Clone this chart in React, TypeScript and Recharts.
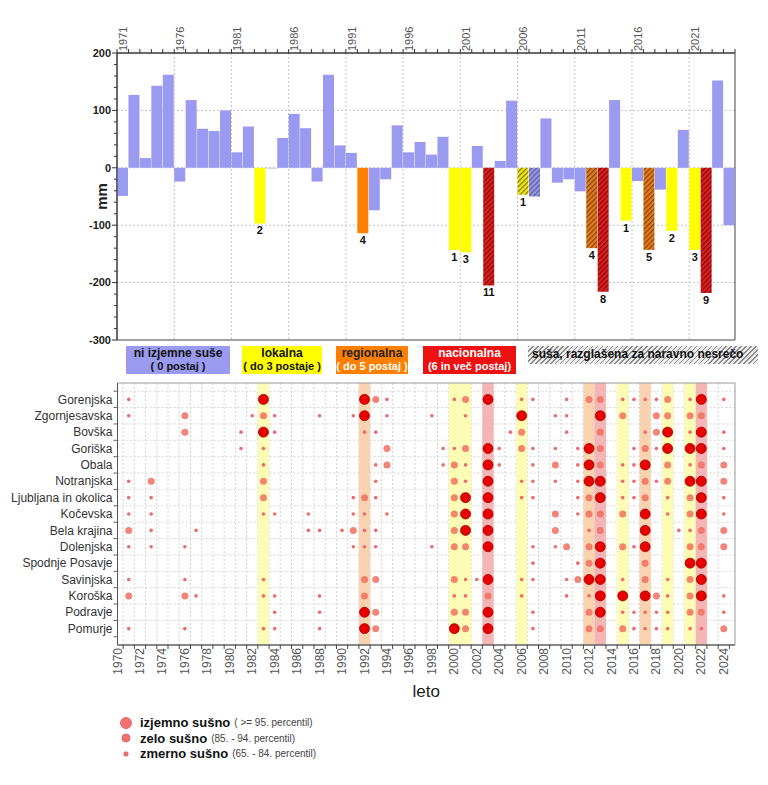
import React from "react";
import {
  BarChart,
  Bar,
  Cell,
  LabelList,
  XAxis,
  YAxis,
  CartesianGrid,
  ReferenceArea,
  ScatterChart,
  Scatter,
} from "recharts";

// --- data: precipitation anomaly (mm), one value per year from 1971 ---
const FIRST_YEAR = 1971;
const precipAnomaly = [
  -49, 127, 17, 143, 162, -24, 118, 68, 64, 100,
  27, 72, -97, -1, 52, 94, 69, -24, 162, 39,
  26, -114, -74, -20, 74, 27, 45, 23, 54, -143,
  -147, 38, -205, 12, 117, -47, -50, 86, -26, -20,
  -41, -140, -216, 118, -92, -23, -143, -38, -110, 66,
  -143, -218, 152, -100,
];

const localYears = [1983, 2000, 2001, 2006, 2015, 2019, 2021];
const regionalYears = [1992, 2012, 2017];
const nationalYears = [2003, 2013, 2022];
const declaredYears = [2003, 2006, 2007, 2012, 2013, 2017, 2022];
const stationCounts: Record<number, number> = {
  1983: 2, 1992: 4, 2000: 1, 2001: 3, 2003: 11, 2006: 1, 2012: 4,
  2013: 8, 2015: 1, 2017: 5, 2019: 2, 2021: 3, 2022: 9,
};

const topLabelYears = [1971, 1976, 1981, 1986, 1991, 1996, 2001, 2006, 2011, 2016, 2021];
const mmTicks = [200, 100, 0, -100, -200, -300];

// --- regional drought (1 = zmerno, 2 = zelo, 3 = izjemno) ---
const regions = [
  "Gorenjska", "Zgornjesavska", "Bovška", "Goriška", "Obala", "Notranjska",
  "Ljubljana in okolica", "Kočevska", "Bela krajina", "Dolenjska",
  "Spodnje Posavje", "Savinjska", "Koroška", "Podravje", "Pomurje",
];

const regionDrought: [number, number][][] = [
  // Gorenjska
  [[1971, 1], [1983, 3], [1992, 3], [1993, 2], [1994, 1], [2000, 1], [2001, 2], [2003, 3], [2006, 1], [2007, 1], [2010, 1], [2012, 2], [2013, 2], [2015, 1], [2016, 1], [2017, 1], [2018, 1], [2019, 2], [2021, 1], [2022, 3], [2024, 1]],
  // Zgornjesavska
  [[1971, 1], [1976, 2], [1982, 1], [1983, 2], [1984, 1], [1988, 1], [1991, 1], [1992, 3], [1994, 1], [1998, 1], [2001, 1], [2006, 3], [2009, 1], [2010, 1], [2013, 3], [2015, 2], [2018, 2], [2019, 2], [2021, 2], [2022, 2]],
  // Bovška
  [[1976, 2], [1981, 1], [1983, 3], [1984, 1], [1992, 1], [1993, 1], [2005, 1], [2006, 2], [2010, 1], [2013, 2], [2017, 1], [2018, 2], [2019, 3], [2021, 1], [2022, 3], [2024, 1]],
  // Goriška
  [[1981, 1], [1983, 1], [1994, 2], [1999, 1], [2000, 1], [2001, 2], [2003, 3], [2004, 1], [2006, 2], [2007, 1], [2009, 1], [2011, 1], [2012, 3], [2013, 2], [2016, 1], [2017, 2], [2018, 1], [2019, 3], [2021, 3], [2022, 3], [2024, 1]],
  // Obala
  [[1983, 1], [1993, 1], [1994, 2], [1999, 1], [2000, 2], [2001, 1], [2003, 3], [2004, 1], [2007, 1], [2009, 2], [2011, 1], [2012, 3], [2013, 2], [2015, 1], [2016, 1], [2017, 3], [2019, 2], [2021, 1], [2022, 2], [2024, 2]],
  // Notranjska
  [[1971, 1], [1973, 2], [1983, 2], [1993, 1], [2000, 2], [2001, 1], [2003, 3], [2006, 1], [2007, 1], [2009, 1], [2011, 1], [2012, 3], [2013, 3], [2015, 1], [2016, 1], [2017, 2], [2018, 1], [2019, 2], [2021, 3], [2022, 3], [2024, 2]],
  // Ljubljana in okolica
  [[1971, 1], [1973, 1], [1983, 2], [1991, 1], [1992, 2], [1993, 1], [2000, 2], [2001, 3], [2003, 3], [2006, 1], [2007, 1], [2011, 1], [2012, 2], [2013, 3], [2015, 1], [2016, 1], [2017, 2], [2019, 1], [2021, 2], [2022, 3], [2024, 1]],
  // Kočevska
  [[1971, 1], [1973, 1], [1983, 1], [1984, 1], [1987, 1], [1991, 1], [1992, 1], [1994, 1], [2000, 2], [2001, 3], [2003, 3], [2009, 2], [2011, 1], [2012, 2], [2013, 2], [2015, 2], [2017, 3], [2019, 1], [2021, 2], [2022, 3], [2024, 1]],
  // Bela krajina
  [[1971, 2], [1973, 1], [1977, 1], [1987, 1], [1988, 1], [1990, 1], [1991, 2], [1992, 1], [1993, 1], [2000, 2], [2001, 3], [2003, 3], [2009, 2], [2012, 1], [2013, 2], [2017, 3], [2020, 1], [2021, 1], [2022, 2], [2024, 2]],
  // Dolenjska
  [[1971, 1], [1973, 1], [1976, 1], [1991, 1], [1992, 1], [1993, 1], [1998, 1], [2000, 2], [2001, 2], [2003, 3], [2007, 1], [2009, 1], [2010, 2], [2012, 2], [2013, 3], [2015, 2], [2016, 1], [2017, 3], [2021, 2], [2022, 2], [2024, 2]],
  // Spodnje Posavje
  [[2007, 1], [2011, 1], [2012, 2], [2013, 3], [2017, 2], [2021, 3], [2022, 3]],
  // Savinjska
  [[1971, 1], [1976, 1], [1983, 1], [1992, 2], [1993, 2], [2000, 2], [2001, 1], [2002, 1], [2003, 3], [2006, 1], [2007, 1], [2010, 1], [2011, 2], [2012, 3], [2013, 3], [2015, 1], [2017, 2], [2019, 1], [2021, 2], [2022, 3]],
  // Koroška
  [[1971, 2], [1976, 2], [1977, 1], [1983, 1], [1984, 1], [1988, 1], [1992, 2], [2000, 1], [2001, 1], [2003, 2], [2006, 1], [2010, 1], [2012, 1], [2013, 3], [2015, 3], [2017, 3], [2018, 2], [2019, 1], [2021, 2], [2022, 3], [2024, 1]],
  // Podravje
  [[1984, 1], [1988, 1], [1992, 3], [1993, 2], [2000, 2], [2001, 2], [2003, 3], [2007, 1], [2012, 2], [2013, 3], [2015, 1], [2016, 1], [2017, 1], [2018, 1], [2019, 1], [2021, 2], [2022, 2], [2024, 1]],
  // Pomurje
  [[1971, 1], [1976, 1], [1983, 1], [1984, 1], [1988, 1], [1992, 3], [1993, 2], [2000, 3], [2001, 2], [2003, 3], [2007, 1], [2012, 2], [2013, 2], [2015, 2], [2016, 1], [2017, 1], [2018, 1], [2019, 1], [2021, 1], [2022, 1], [2024, 2]],
];

// --- styling ---
const FONT = "'Liberation Sans', Arial, sans-serif";
const NARROW = "'Liberation Sans Narrow', 'Liberation Sans', Arial, sans-serif";
const barColors: Record<string, string> = {
  none: "#9a9af0",
  local: "#ffff00",
  regional: "#ff8000",
  national: "#ee1111",
};
const hatchColors: Record<string, { base: string; line: string }> = {
  none: { base: "#9595e6", line: "#55558c" },
  local: { base: "#f2e81a", line: "#6e6a14" },
  regional: { base: "#e47a18", line: "#7a4210" },
  national: { base: "#dc1e1e", line: "#7c0c0c" },
};
const bandColors: Record<string, string> = {
  local: "#fcfcb4",
  regional: "#f9d3b0",
  national: "#f5b5b5",
};

const classOf = (year: number) =>
  nationalYears.includes(year)
    ? "national"
    : regionalYears.includes(year)
    ? "regional"
    : localYears.includes(year)
    ? "local"
    : "none";

const barData = precipAnomaly.map((value, i) => {
  const year = FIRST_YEAR + i;
  return {
    year,
    mid: year + 0.5,
    value,
    cls: classOf(year),
    declared: declaredYears.includes(year),
    stations: stationCounts[year],
  };
});

const topYearTicks = Array.from({ length: precipAnomaly.length + 1 }, (_, i) => FIRST_YEAR + i);
const mmMinorTicks = Array.from({ length: 26 }, (_, i) => -300 + i * 20);
const bottomYears = Array.from({ length: 55 }, (_, i) => 1970 + i);
const bandYears = [...localYears, ...regionalYears, ...nationalYears];

const points = regionDrought.flatMap((list, row) =>
  list.map(([year, level]) => ({ year, row, level }))
);

const TOP_PLOT_W = 618;
const HALF_TOP = TOP_PLOT_W / precipAnomaly.length / 2;
const HALF_BOTTOM = TOP_PLOT_W / 55 / 2;
const HALF_ROW = 262 / 16 / 2;

const TopTick = (p: any) => {
  const { x, y, payload } = p;
  const yr = payload.value;
  const lx = x + HALF_TOP + 4;
  const ly = y - 2;
  return (
    <g>
      <line x1={x} x2={x} y1={y} y2={y - 4} stroke="#333" />
      {topLabelYears.includes(yr) && (
        <text x={lx} y={ly} transform={`rotate(-90 ${lx} ${ly})`} fontSize={11} fill="#555" fontFamily={FONT}>
          {yr}
        </text>
      )}
    </g>
  );
};

const LeftTick = (p: any) => {
  const { x, y, payload } = p;
  const v = payload.value;
  const major = mmTicks.includes(v);
  return (
    <g>
      <line x1={x - (major ? 5 : 3)} x2={x} y1={y} y2={y} stroke="#333" />
      {major && (
        <text x={x - 6} y={y} dy="0.35em" textAnchor="end" fontSize={11} fontWeight="bold" fill="#222" fontFamily={FONT}>
          {v}
        </text>
      )}
    </g>
  );
};

const StationLabel = (p: any) => {
  const { x, y, width, height, value } = p;
  if (value === undefined || value === null || value === "") return null;
  const bottom = Math.max(Number(y), Number(y) + Number(height));
  return (
    <text x={Number(x) + Number(width) / 2} y={bottom + 11} textAnchor="middle" fontSize={11} fontWeight="bold" fill="#111" fontFamily={NARROW}>
      {value}
    </text>
  );
};

const MmLabel = (p: any) => {
  const vb = p.viewBox || { x: 60, y: 45, width: 49, height: 287 };
  const cx = vb.x + 39;
  const cy = vb.y + vb.height / 2;
  return (
    <text x={cx} y={cy} transform={`rotate(-90 ${cx} ${cy})`} textAnchor="middle" fontSize={15} fontWeight="bold" fill="#222" fontFamily={FONT}>
      mm
    </text>
  );
};

const BottomTick = (p: any) => {
  const { x, y, payload } = p;
  const yr = payload.value;
  const lx = x + 4;
  const ly = y + 3;
  return (
    <g>
      <line x1={x + HALF_BOTTOM} x2={x + HALF_BOTTOM} y1={y} y2={y + 4} stroke="#444" />
      {yr % 2 === 0 && (
        <text x={lx} y={ly} transform={`rotate(-90 ${lx} ${ly})`} textAnchor="end" fontSize={12} fill="#555" fontFamily={FONT}>
          {yr}
        </text>
      )}
    </g>
  );
};

const RegionTick = (p: any) => {
  const { x, y, payload } = p;
  const row = payload.value;
  return (
    <g>
      <line x1={x - 4} x2={x} y1={y + HALF_ROW} y2={y + HALF_ROW} stroke="#666" />
      {row === 0 && <line x1={x - 4} x2={x} y1={y - HALF_ROW} y2={y - HALF_ROW} stroke="#666" />}
      <text x={x - 5} y={y} dy="0.35em" textAnchor="end" fontSize={12} fill="#333" fontFamily={FONT}>
        {regions[row]}
      </text>
    </g>
  );
};

const bubbleStyle: Record<number, { r: number; fill: string; stroke?: string; opacity: number }> = {
  1: { r: 1.8, fill: "#ef6a6a", opacity: 1 },
  2: { r: 3.5, fill: "#f0705f", opacity: 0.85 },
  3: { r: 5, fill: "#e80000", stroke: "#a00000", opacity: 1 },
};

const legendBoxes = [
  { bg: barColors.none, left: 118, width: 104, l1: "ni izjemne suše", l2: "( 0 postaj )", c1: "#111", c2: "#111" },
  { bg: barColors.local, left: 234, width: 80, l1: "lokalna", l2: "( do 3 postaje )", c1: "#111", c2: "#111" },
  { bg: barColors.regional, left: 328, width: 72, l1: "regionalna", l2: "( do 5 postaj )", c1: "#222", c2: "#fff" },
  { bg: barColors.national, left: 415, width: 93, l1: "nacionalna", l2: "(6 in več postaj)", c1: "#fff", c2: "#fff" },
];

const sizeLegend = [
  { level: 3, r: 5.5, bold: "izjemno sušno", note: "( >= 95. percentil)" },
  { level: 2, r: 4, bold: "zelo sušno", note: "(85. - 94. percentil)" },
  { level: 1, r: 2.2, bold: "zmerno sušno", note: "(65. - 84. percentil)" },
];

export default function App() {
  return (
    <div style={{ position: "relative", width: 752, height: 770, fontFamily: FONT }}>
      <div style={{ position: "absolute", left: 0, top: 0 }}>
        <BarChart width={740} height={340} data={barData} margin={{ top: 20, right: 13, bottom: 8, left: 60 }}>
          <defs>
            {Object.entries(hatchColors).map(([k, c]) => (
              <pattern key={k} id={`hatch-${k}`} width="3.5" height="3.5" patternUnits="userSpaceOnUse" patternTransform="rotate(45)">
                <rect width="3.5" height="3.5" fill={c.base} />
                <line x1="0.6" y1="0" x2="0.6" y2="3.5" stroke={c.line} strokeWidth="1.1" />
              </pattern>
            ))}
          </defs>
          <CartesianGrid
            stroke="#c4c4c4"
            strokeDasharray="2 2"
            horizontalValues={[100, 0, -100, -200]}
            verticalValues={topLabelYears.slice(1)}
          />
          <XAxis
            type="number"
            dataKey="mid"
            orientation="top"
            domain={[1971, 2025]}
            ticks={topYearTicks}
            interval={0}
            height={25}
            tickSize={0}
            tickMargin={0}
            tickLine={false}
            tick={<TopTick />}
            axisLine={{ stroke: "#333" }}
          />
          <YAxis
            type="number"
            domain={[-300, 200]}
            ticks={mmMinorTicks}
            interval={0}
            width={49}
            tickSize={0}
            tickMargin={0}
            tickLine={false}
            tick={<LeftTick />}
            axisLine={{ stroke: "#333" }}
            label={{ content: MmLabel }}
          />
          <ReferenceArea x1={1971} x2={2025} y1={-300} y2={200} fill="none" stroke="#444" />
          <Bar dataKey="value" barSize={11} isAnimationActive={false}>
            {barData.map((d) => (
              <Cell key={d.year} fill={d.declared ? `url(#hatch-${d.cls})` : barColors[d.cls]} />
            ))}
            <LabelList dataKey="stations" content={<StationLabel />} />
          </Bar>
        </BarChart>
      </div>

      {legendBoxes.map((b) => (
        <div
          key={b.l1}
          style={{
            position: "absolute",
            left: b.left,
            top: 338,
            width: b.width,
            height: 28,
            background: b.bg,
            textAlign: "center",
            lineHeight: "13px",
          }}
        >
          <div style={{ fontSize: 12, fontWeight: "bold", color: b.c1, marginTop: 1 }}>{b.l1}</div>
          <div style={{ fontSize: 11, fontWeight: "bold", color: b.c2, fontFamily: NARROW }}>{b.l2}</div>
        </div>
      ))}
      <div
        style={{
          position: "absolute",
          left: 520,
          top: 338,
          width: 230,
          height: 18,
          background: "repeating-linear-gradient(135deg, #8a8a8a 0 1px, #ececec 1px 3.5px)",
          fontSize: 12,
          fontWeight: "bold",
          color: "#111",
          lineHeight: "17px",
          paddingLeft: 4,
          boxSizing: "border-box",
          whiteSpace: "nowrap",
          overflow: "hidden",
        }}
      >
        suša, razglašena za naravno nesrečo
      </div>

      <div style={{ position: "absolute", left: 0, top: 367 }}>
        <ScatterChart width={740} height={330} margin={{ top: 8, right: 13, bottom: 8, left: 0 }}>
          <CartesianGrid
            stroke="#d4d4d4"
            strokeDasharray="2 2"
            horizontalValues={regions.slice(0, 15).map((_, i) => i - 0.5)}
            verticalValues={bottomYears.map((y) => y + 0.5).slice(0, 54)}
          />
          {bandYears.map((y) => (
            <ReferenceArea key={y} x1={y - 0.5} x2={y + 0.5} y1={-1} y2={15} fill={bandColors[classOf(y)]} fillOpacity={1} stroke="none" />
          ))}
          <XAxis
            type="number"
            dataKey="year"
            domain={[1970, 2025]}
            ticks={bottomYears}
            interval={0}
            height={52}
            tickSize={0}
            tickMargin={0}
            tickLine={false}
            tick={<BottomTick />}
            axisLine={{ stroke: "#444" }}
            label={{ value: "leto", position: "insideBottom", offset: 0, fontSize: 17, fill: "#222" }}
          />
          <YAxis
            type="number"
            dataKey="row"
            domain={[-1, 15]}
            reversed
            ticks={regions.map((_, i) => i)}
            interval={0}
            width={109.5}
            tickSize={0}
            tickMargin={0}
            tickLine={false}
            tick={<RegionTick />}
            axisLine={{ stroke: "#555" }}
          />
          <ReferenceArea x1={1970} x2={2025} y1={-1} y2={15} fill="none" stroke="#999" />
          {[1, 2, 3].map((lvl) => {
            const s = bubbleStyle[lvl];
            return (
              <Scatter
                key={lvl}
                data={points.filter((p) => p.level === lvl)}
                isAnimationActive={false}
                shape={(sp: any) => (
                  <circle
                    cx={sp.cx}
                    cy={sp.cy}
                    r={s.r}
                    fill={s.fill}
                    fillOpacity={s.opacity}
                    stroke={s.stroke || "none"}
                    strokeWidth={0.8}
                  />
                )}
              />
            );
          })}
        </ScatterChart>
      </div>

      <div style={{ position: "absolute", left: 110, top: 707 }}>
        {sizeLegend.map((s) => (
          <div key={s.level} style={{ display: "flex", alignItems: "center", height: 15.5 }}>
            <svg width={16} height={14}>
              <circle cx={8} cy={7} r={s.r} fill="#f27272" stroke="#d85858" strokeWidth={0.8} />
            </svg>
            <span style={{ marginLeft: 6, fontSize: 13, fontWeight: "bold", color: "#111" }}>{s.bold}</span>
            <span style={{ marginLeft: 4, fontSize: 10, color: "#444" }}>{s.note}</span>
          </div>
        ))}
      </div>
    </div>
  );
}
